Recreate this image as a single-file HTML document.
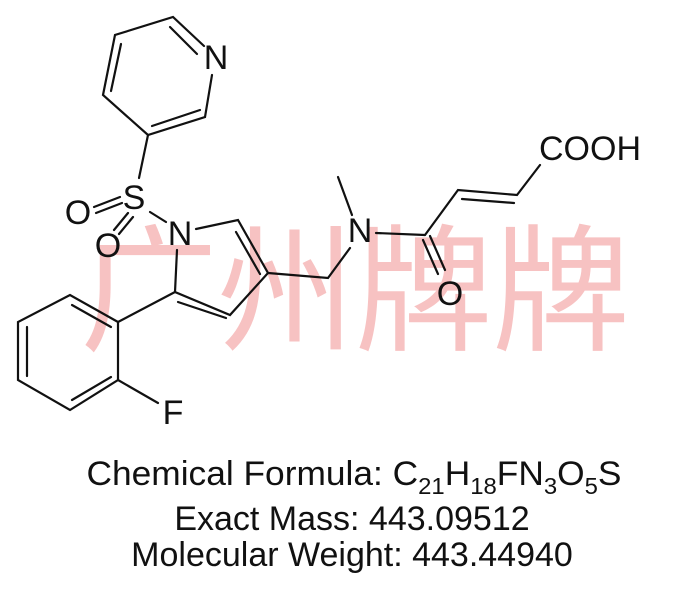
<!DOCTYPE html>
<html><head><meta charset="utf-8"><style>
body{margin:0;background:#fff;width:700px;height:600px;overflow:hidden}
svg{display:block}
text{font-family:"Liberation Sans",Arial,sans-serif;fill:#111}
</style></head><body>
<svg width="700" height="600" viewBox="0 0 700 600">
<text x="355" y="340" text-anchor="middle" textLength="550" style="font-family:'Noto Sans CJK SC',sans-serif;fill:#f6b8b8;font-size:138px;opacity:0.85">广州牌牌</text>
<g stroke="#111" stroke-width="2.2" fill="none" stroke-linecap="round">
<polyline points="204,46 173,17 115,35 103,95 148,135 205,117 212,75"/>
<line x1="170" y1="27" x2="197" y2="54"/>
<line x1="121" y1="44" x2="111" y2="91"/>
<line x1="152" y1="126" x2="200" y2="110"/>
<line x1="148" y1="135" x2="139" y2="178"/>
<line x1="150" y1="212" x2="166" y2="222"/>
<line x1="94" y1="207" x2="120" y2="197"/>
<line x1="96" y1="213" x2="122" y2="203"/>
<line x1="114" y1="230" x2="128" y2="213"/>
<line x1="119" y1="234" x2="133" y2="217"/>
<polyline points="196,229 238,220 268,273 230,315 175,292 177,250"/>
<line x1="236" y1="232" x2="260" y2="274"/>
<line x1="178" y1="302" x2="226" y2="318"/>
<line x1="175" y1="292" x2="118" y2="322"/>
<polygon points="118,322 70,295 18,322 18,380 70,410 118,380"/>
<line x1="72" y1="305" x2="111" y2="327"/>
<line x1="27" y1="327" x2="27" y2="376"/>
<line x1="72" y1="400" x2="111" y2="377"/>
<line x1="118" y1="380" x2="158" y2="403"/>
<polyline points="268,273 328,278 350,248"/>
<line x1="352" y1="215" x2="338" y2="177"/>
<line x1="376" y1="233" x2="425" y2="235"/>
<polyline points="425,235 458,190 517,195 540,165"/>
<line x1="462" y1="199" x2="514" y2="203"/>
<line x1="423" y1="240" x2="438" y2="274"/>
<line x1="430" y1="236" x2="445" y2="270"/>
</g>
<g font-size="34" text-anchor="middle">
<text x="216" y="69">N</text>
<text x="134" y="209">S</text>
<text x="78" y="224">O</text>
<text x="108" y="257">O</text>
<text x="180" y="245">N</text>
<text x="360" y="242">N</text>
<text x="450" y="305">O</text>
<text x="173" y="424">F</text>
<text x="590" y="160">COOH</text>
</g>
<g font-size="34" text-anchor="middle">
<text x="354" y="485" textLength="535" lengthAdjust="spacingAndGlyphs">Chemical Formula: C<tspan font-size="23" dy="9">21</tspan><tspan dy="-9">H</tspan><tspan font-size="23" dy="9">18</tspan><tspan dy="-9">FN</tspan><tspan font-size="23" dy="9">3</tspan><tspan dy="-9">O</tspan><tspan font-size="23" dy="9">5</tspan><tspan dy="-9">S</tspan></text>
<text x="352" y="530">Exact Mass: 443.09512</text>
<text x="352" y="566">Molecular Weight: 443.44940</text>
</g>
</svg>
</body></html>
